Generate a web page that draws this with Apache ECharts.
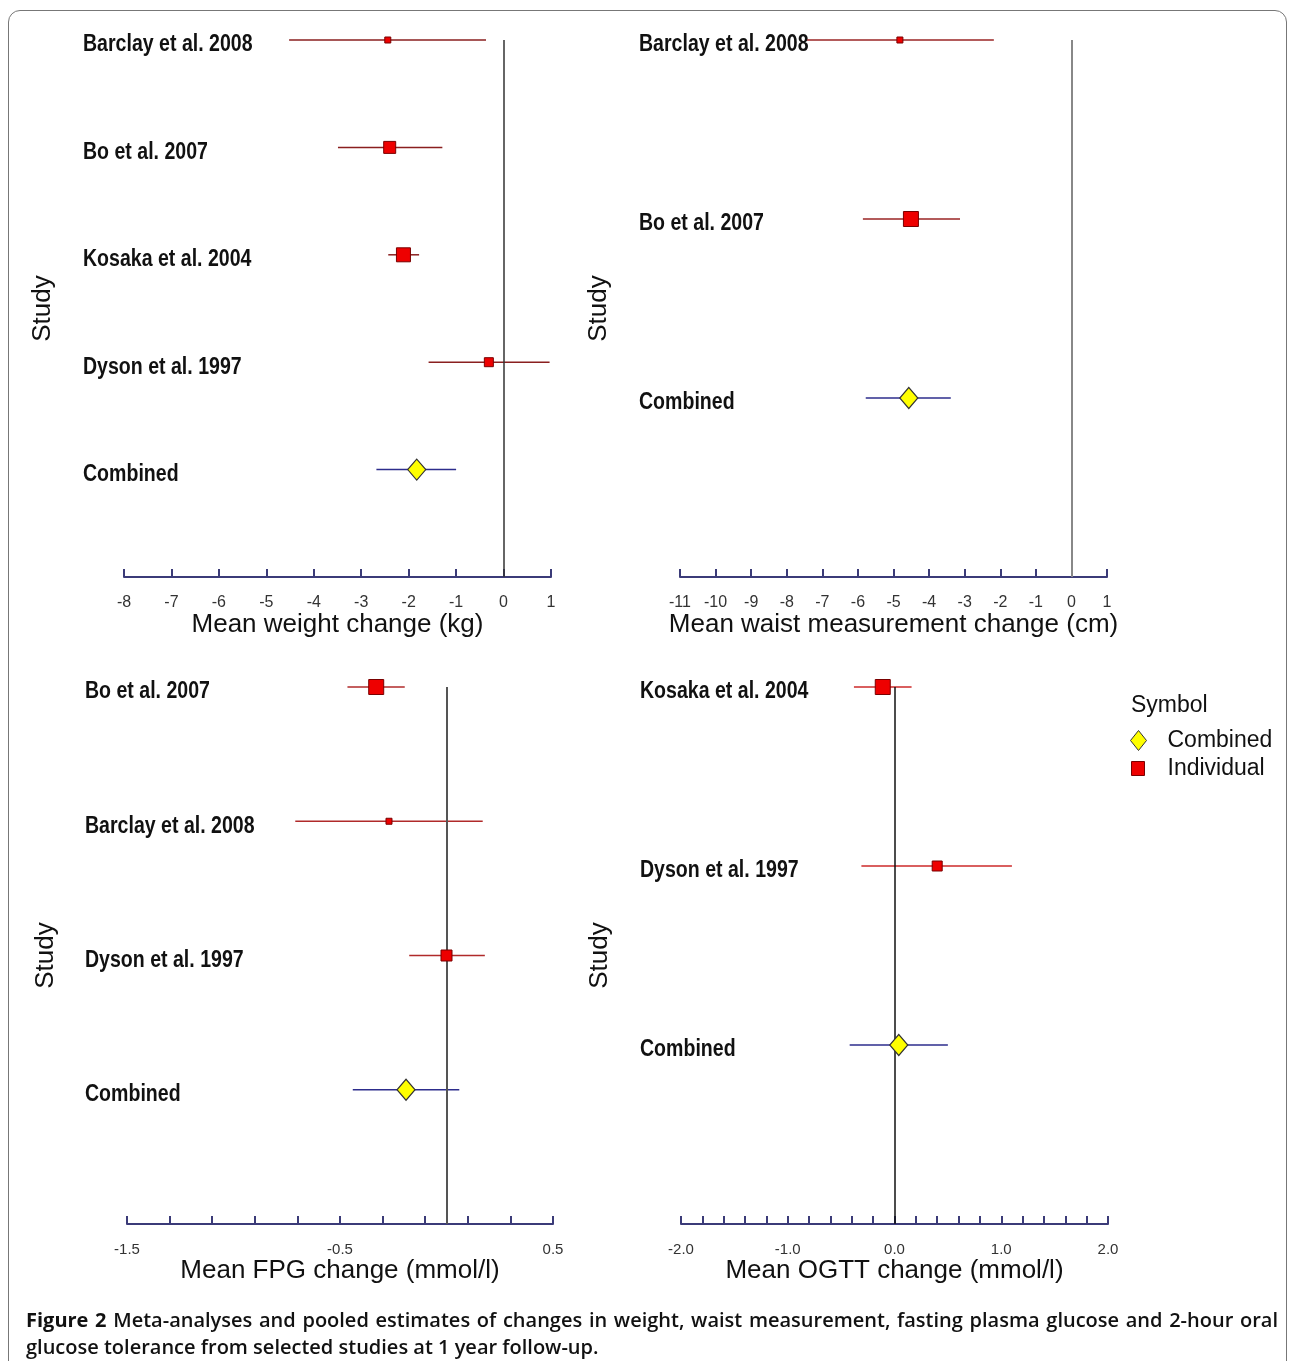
<!DOCTYPE html>
<html>
<head>
<meta charset="utf-8">
<script src="https://cdn.jsdelivr.net/npm/echarts@6/dist/echarts.min.js"></script>
<style>
  html, body { margin: 0; padding: 0; background: #fff; }
  #wrap { position: relative; width: 1290px; height: 1361px; overflow: hidden; }
  #frame { position: absolute; left: 8px; top: 10px; width: 1279px; height: 1420px; border: 1px solid #777; border-radius: 12px; box-sizing: border-box; }
  #chart { position: absolute; left: 0; top: 0; width: 1290px; height: 1361px; }
  #cap { position: absolute; left: 26px; top: 1306px; width: 1252px; font-family: 'Open Sans', 'Liberation Sans', sans-serif; font-size: 20px; line-height: 27px; color: #111; font-weight: 600; }
  #cap div { white-space: nowrap; }
  #cap b { font-weight: 700; }
</style>
</head>
<body>
<div id="wrap">
  <div id="frame"></div>
  <div id="chart"></div>
  <div id="cap">
    <div id="l1"><span id="l1s"><b>Figure 2</b> Meta-analyses and pooled estimates of changes in weight, waist measurement, fasting plasma glucose and 2-hour oral</span></div>
    <div>glucose tolerance from selected studies at 1 year follow-up.</div>
  </div>
</div>
<script>
// ---------- data ----------
const weightStudies = ['Barclay et al. 2008', 'Bo et al. 2007', 'Kosaka et al. 2004', 'Dyson et al. 1997', 'Combined'];
const weightMean = [-2.44, -2.40, -2.11, -0.31, -1.83];
const weightLow  = [-4.52, -3.49, -2.43, -1.58, -2.68];
const weightHigh = [-0.37, -1.29, -1.78, 0.97, -1.00];

const waistStudies = ['Barclay et al. 2008', 'Bo et al. 2007', 'Combined'];
const waistMean = [-4.82, -4.51, -4.57];
const waistLow  = [-7.43, -5.86, -5.78];
const waistHigh = [-2.18, -3.13, -3.39];

const fpgStudies = ['Bo et al. 2007', 'Barclay et al. 2008', 'Dyson et al. 1997', 'Combined'];
const fpgMean = [-0.33, -0.27, 0.00, -0.19];
const fpgLow  = [-0.465, -0.71, -0.175, -0.44];
const fpgHigh = [-0.196, 0.17, 0.18, 0.06];

const ogttStudies = ['Kosaka et al. 2004', 'Dyson et al. 1997', 'Combined'];
const ogttMean = [-0.11, 0.40, 0.04];
const ogttLow  = [-0.38, -0.31, -0.42];
const ogttHigh = [0.16, 1.10, 0.50];

const fpgTickLabels = ['-1.5', '-0.5', '0.5'];
const ogttTickLabels = ['-2.0', '-1.0', '0.0', '1.0', '2.0'];

// ---------- styling (marker sizes, layout) ----------
const weightSizes = [6, 12, 14, 9, 0];
const waistSizes = [6, 15, 0];
const fpgSizes = [15, 6, 11, 0];
const ogttSizes = [15, 10, 0];
const DIAMOND = [18, 21];

const SANS = "'Liberation Sans', Arial, sans-serif";
const AXIS_COLOR = '#3b3b78';

const panels = [
  { studies: weightStudies, mean: weightMean, low: weightLow, high: weightHigh, sizes: weightSizes,
    grid: { left: 124, top: 40, width: 427, height: 537 }, min: -8, max: 1, interval: 1,
    fmt: v => String(Math.round(v)), labelSize: 16, labelX: 83,
    name: 'Mean weight change (kg)', zeroColor: '#333', zeroWidth: 1.5, indColor: '#8a1f1f' },
  { studies: waistStudies, mean: waistMean, low: waistLow, high: waistHigh, sizes: waistSizes,
    grid: { left: 680, top: 40, width: 427, height: 537 }, min: -11, max: 1, interval: 1,
    fmt: v => String(Math.round(v)), labelSize: 16, labelX: 639,
    name: 'Mean waist measurement change (cm)', zeroColor: '#888', zeroWidth: 2, indColor: '#9a2424' },
  { studies: fpgStudies, mean: fpgMean, low: fpgLow, high: fpgHigh, sizes: fpgSizes,
    grid: { left: 127, top: 687, width: 426, height: 537 }, min: -1.5, max: 0.5, interval: 0.2,
    fmt: v => { const s = (Math.round(v * 10) / 10).toFixed(1); return fpgTickLabels.includes(s) ? s : ''; },
    labelSize: 15, labelX: 85,
    name: 'Mean FPG change (mmol/l)', zeroColor: '#555', zeroWidth: 2, indColor: '#b02a2a' },
  { studies: ogttStudies, mean: ogttMean, low: ogttLow, high: ogttHigh, sizes: ogttSizes,
    grid: { left: 681, top: 687, width: 427, height: 537 }, min: -2, max: 2, interval: 0.2,
    fmt: v => { const s = (Math.round(v * 10) / 10).toFixed(1); return ogttTickLabels.includes(s) ? s : ''; },
    labelSize: 15, labelX: 640,
    name: 'Mean OGTT change (mmol/l)', zeroColor: '#111', zeroWidth: 1.5, indColor: '#cc2a2a' }
];

const grids = [], xAxes = [], yAxes = [], series = [];

panels.forEach((p, idx) => {
  const N = p.studies.length;
  grids.push(Object.assign({ containLabel: false }, p.grid));
  xAxes.push({
    type: 'value', gridIndex: idx, min: p.min, max: p.max, interval: p.interval,
    axisLine: { show: true, onZero: false, lineStyle: { color: AXIS_COLOR, width: 2 } },
    axisTick: { show: true, inside: true, length: 8, lineStyle: { color: AXIS_COLOR, width: 2 } },
    splitLine: { show: false },
    axisLabel: { formatter: p.fmt, fontSize: p.labelSize, color: '#333', margin: 18, fontFamily: SANS },
    name: p.name, nameLocation: 'middle', nameGap: 34,
    nameTextStyle: { fontSize: 26, color: '#111', fontFamily: SANS }
  });
  yAxes.push({
    type: 'value', gridIndex: idx, min: 0, max: N, interval: 1,
    axisLine: { show: false }, axisTick: { show: false }, splitLine: { show: false },
    axisLabel: { show: false },
    name: 'Study', nameLocation: 'middle', nameRotate: 90, nameGap: 68,
    nameTextStyle: { fontSize: 26, color: '#111', fontFamily: SANS }
  });

  const ciData = p.studies.map((s, i) => [p.low[i], p.high[i], N - i, s === 'Combined' ? 1 : 0]);
  const labelData = p.studies.map((s, i) => [p.min, N - i, i]);
  const indiv = [], comb = [];
  p.studies.forEach((s, i) => {
    if (s === 'Combined') comb.push({ value: [p.mean[i], N - i], symbolSize: DIAMOND });
    else indiv.push({ value: [p.mean[i], N - i], symbolSize: p.sizes[i] });
  });

  // study labels (positioned on the y scale)
  series.push({
    type: 'custom', xAxisIndex: idx, yAxisIndex: idx, data: labelData,
    encode: { x: 0, y: 1 }, silent: true, z: 1, clip: false,
    renderItem: (params, api) => {
      const pt = api.coord([api.value(0), api.value(1)]);
      return {
        type: 'text', x: p.labelX, y: pt[1] + 5, scaleX: 0.85, scaleY: 1,
        style: {
          text: p.studies[api.value(2)], fill: '#111',
          font: "bold 23px 'Liberation Sans', Arial, sans-serif",
          textAlign: 'left', textVerticalAlign: 'middle', verticalAlign: 'middle'
        }
      };
    }
  });
  // confidence intervals
  series.push({
    type: 'custom', xAxisIndex: idx, yAxisIndex: idx, data: ciData,
    encode: { x: [0, 1], y: 2 }, silent: true, z: 2, clip: false,
    renderItem: (params, api) => {
      const a = api.coord([api.value(0), api.value(2)]);
      const b = api.coord([api.value(1), api.value(2)]);
      const c = api.value(3) ? '#2d2d8c' : p.indColor;
      return { type: 'line', shape: { x1: a[0], y1: a[1], x2: b[0], y2: b[1] }, style: { stroke: c, lineWidth: 1.5 } };
    }
  });
  series.push({
    type: 'scatter', name: 'Individual', symbol: 'rect', xAxisIndex: idx, yAxisIndex: idx, data: indiv,
    itemStyle: { color: '#ee0000', borderColor: '#7a0000', borderWidth: 1, opacity: 1 }, z: 5, silent: true, clip: false,
    markLine: {
      silent: true, symbol: 'none', label: { show: false }, animation: false,
      lineStyle: { color: p.zeroColor, width: p.zeroWidth, type: 'solid' },
      data: [{ xAxis: 0 }]
    }
  });
  series.push({
    type: 'scatter', name: 'Combined', symbol: 'diamond', xAxisIndex: idx, yAxisIndex: idx, data: comb,
    itemStyle: { color: '#ffff00', borderColor: '#333', borderWidth: 1.2, opacity: 1 }, z: 6, silent: true, clip: false
  });
});

const chart = echarts.init(document.getElementById('chart'), null, { renderer: 'canvas' });
chart.setOption({
  animation: false,
  backgroundColor: 'transparent',
  grid: grids, xAxis: xAxes, yAxis: yAxes, series: series,
  legend: [
    { data: [{ name: 'Combined', icon: 'diamond' }], orient: 'vertical', left: 1130, top: 729, padding: 0,
      itemWidth: 16, itemHeight: 20, selectedMode: false,
      itemStyle: { color: '#ffff00', borderColor: '#333', borderWidth: 1 },
      textStyle: { fontSize: 23, color: '#111', fontFamily: SANS, padding: [0, 0, 0, 16] } },
    { data: [{ name: 'Individual', icon: 'rect' }], orient: 'vertical', left: 1131, top: 757, padding: 0,
      itemWidth: 13, itemHeight: 14, selectedMode: false,
      itemStyle: { color: '#ee0000', borderColor: '#7a0000', borderWidth: 1 },
      textStyle: { fontSize: 23, color: '#111', fontFamily: SANS, padding: [0, 0, 0, 18] } }
  ],
  graphic: [
    { type: 'text', left: 1131, top: 694, style: { text: 'Symbol', fontSize: 23, fill: '#111', fontFamily: SANS } }
  ]
});

// justify first caption line to the caption width
(function () {
  const span = document.getElementById('l1s');
  const natural = span.getBoundingClientRect().width;
  const spaces = (span.textContent.match(/ /g) || []).length;
  const extra = (1252 - natural) / spaces;
  span.style.wordSpacing = extra + 'px';
})();
</script>
</body>
</html>
